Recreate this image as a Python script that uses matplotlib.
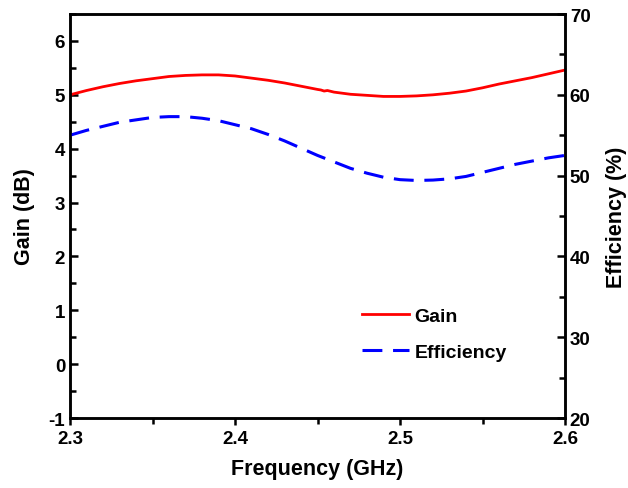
import numpy as np
import matplotlib
matplotlib.use("Agg")
import matplotlib.pyplot as plt
from matplotlib.ticker import MultipleLocator, FormatStrFormatter

plt.rcParams['font.family'] = ['Liberation Sans', 'DejaVu Sans']
plt.rcParams['font.weight'] = 'bold'
plt.rcParams['axes.unicode_minus'] = False

freq = [2.30, 2.31, 2.32, 2.33, 2.34, 2.35, 2.36, 2.37, 2.38, 2.39, 2.40,
        2.41, 2.42, 2.43, 2.44, 2.45, 2.452, 2.454, 2.456, 2.46, 2.47, 2.48,
        2.49, 2.50, 2.51, 2.52, 2.53, 2.54, 2.55, 2.56, 2.57, 2.58, 2.59, 2.60]
gain = [5.00, 5.08, 5.15, 5.21, 5.26, 5.30, 5.34, 5.36, 5.37, 5.37, 5.35,
        5.31, 5.27, 5.22, 5.16, 5.10, 5.09, 5.07, 5.08, 5.05, 5.01, 4.99,
        4.97, 4.97, 4.98, 5.00, 5.03, 5.07, 5.13, 5.20, 5.26, 5.32, 5.39, 5.46]

freq_eff = [2.30, 2.31, 2.32, 2.33, 2.34, 2.35, 2.36, 2.37, 2.38, 2.39, 2.40,
            2.41, 2.42, 2.43, 2.44, 2.45, 2.46, 2.47, 2.48, 2.49, 2.50,
            2.51, 2.52, 2.53, 2.54, 2.55, 2.56, 2.57, 2.58, 2.59, 2.60]
efficiency = [55.0, 55.6, 56.1, 56.6, 56.9, 57.2, 57.3, 57.3, 57.1, 56.8, 56.3,
              55.8, 55.1, 54.3, 53.4, 52.5, 51.7, 50.9, 50.3, 49.8, 49.5,
              49.4, 49.45, 49.6, 49.9, 50.4, 50.9, 51.4, 51.8, 52.2, 52.5]

fig = plt.figure(figsize=(6.28, 4.89), dpi=100)
ax = fig.add_axes([0.1115, 0.1431, 0.7882, 0.8262])
ax2 = ax.twinx()

l1, = ax.plot(freq, gain, color='#ff0000', lw=2.0, label='Gain')
l2, = ax2.plot(freq_eff, efficiency, color='#0000ff', lw=2.2,
               dashes=(6.5, 3.5), label='Efficiency')

ax.set_xlim(2.3, 2.6)
ax.set_ylim(-1, 6.5)
ax2.set_ylim(20, 70)

ax.xaxis.set_major_locator(MultipleLocator(0.1))
ax.xaxis.set_minor_locator(MultipleLocator(0.05))
ax.xaxis.set_major_formatter(FormatStrFormatter('%.1f'))
ax.yaxis.set_major_locator(MultipleLocator(1))
ax.yaxis.set_minor_locator(MultipleLocator(0.5))
ax2.yaxis.set_major_locator(MultipleLocator(10))
ax2.yaxis.set_minor_locator(MultipleLocator(5))

for a in (ax, ax2):
    for s in a.spines.values():
        s.set_linewidth(1.8)

ax.tick_params(axis='x', which='both', direction='out', width=1.8,
               labelsize=13.5, top=False)
ax.tick_params(axis='x', which='major', length=5)
ax.tick_params(axis='x', which='minor', length=4)
ax.tick_params(axis='y', which='both', direction='in', width=1.8, labelsize=13.5)
ax.tick_params(axis='y', which='major', length=6)
ax.tick_params(axis='y', which='minor', length=4)
ax2.tick_params(axis='y', which='both', direction='in', width=1.8, labelsize=13.5)
ax2.tick_params(axis='y', which='major', length=6)
ax2.tick_params(axis='y', which='minor', length=4)

ax.set_xlabel('Frequency (GHz)', fontsize=15.5, fontweight='bold', labelpad=8)
ax.set_ylabel('Gain (dB)', fontsize=15.5, fontweight='bold', labelpad=10)
ax2.set_ylabel('Efficiency (%)', fontsize=15.5, fontweight='bold', labelpad=11)

ax.legend([l1, l2], ['Gain', 'Efficiency'], frameon=False, fontsize=14,
          loc='upper left', bbox_to_anchor=(0.555, 0.318),
          handlelength=2.4, handletextpad=0.3, labelspacing=0.95)

fig.savefig('out.png', dpi=100)
